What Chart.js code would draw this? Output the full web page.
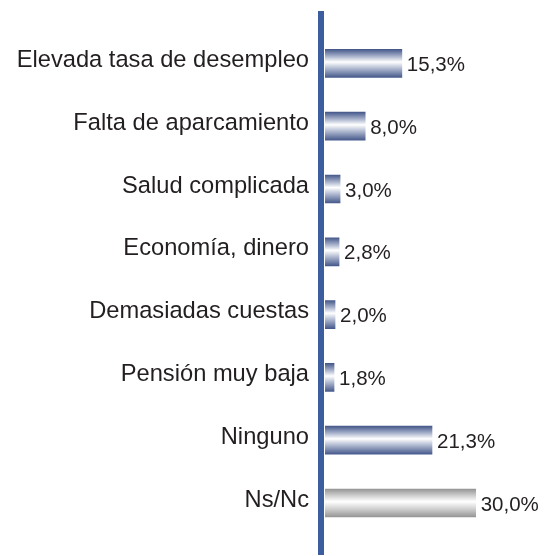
<!DOCTYPE html>
<html>
<head>
<meta charset="utf-8">
<script src="https://cdn.jsdelivr.net/npm/chart.js@4"></script>
<style>
  html, body { margin: 0; padding: 0; background: #fff; }
  #wrap { width: 545px; height: 556px; }
</style>
</head>
<body>
<div id="wrap"><canvas id="myChart"></canvas></div>
<script>
// datos
const categorias = [
  "Elevada tasa de desempleo",
  "Falta de aparcamiento",
  "Salud complicada",
  "Economía, dinero",
  "Demasiadas cuestas",
  "Pensión muy baja",
  "Ninguno",
  "Ns/Nc"
];
const valores = [15.3, 8.0, 3.0, 2.8, 2.0, 1.8, 21.3, 30.0];
const tipoBarra = ["azul", "azul", "azul", "azul", "azul", "azul", "azul", "gris"];

// degradado tipo cilindro, oscuro arriba y abajo, blanco en el medio
function barGradient(ctx) {
  const chart = ctx.chart;
  const yScale = chart.scales.y;
  if (!chart.chartArea || !yScale) return "#4a5d8e";
  const y = yScale.getPixelForValue(ctx.dataIndex);
  const top = y - 14, bottom = y + 14;
  const g = chart.ctx.createLinearGradient(0, top, 0, bottom);
  const dark = tipoBarra[ctx.dataIndex] === "gris" ? "#959595" : "#46598b";
  const mid = tipoBarra[ctx.dataIndex] === "gris" ? "#d2d2d2" : "#a9b3cc";
  g.addColorStop(0, dark);
  g.addColorStop(0.25, mid);
  g.addColorStop(0.45, "#ffffff");
  g.addColorStop(0.7, mid);
  g.addColorStop(1, dark);
  return g;
}

// linea vertical del eje, nombres de categoria y etiquetas de valor
const extras = {
  id: "extras",
  afterDatasetsDraw(chart) {
    const c = chart.ctx;
    const area = chart.chartArea;
    const yScale = chart.scales.y;
    c.save();
    c.fillStyle = "#3c5e9f";
    c.fillRect(area.left - 7, 11, 6, 544);
    c.fillStyle = "#231f20";
    c.textBaseline = "middle";
    c.font = "23.7px 'Liberation Sans', Arial, sans-serif";
    c.textAlign = "right";
    categorias.forEach((cat, i) => {
      c.fillText(cat, area.left - 16, yScale.getPixelForValue(i) - 3);
    });
    c.font = "20.5px 'Liberation Sans', Arial, sans-serif";
    c.textAlign = "left";
    chart.getDatasetMeta(0).data.forEach((bar, i) => {
      c.fillText(valores[i].toFixed(1).replace(".", ",") + "%", bar.x + 5, bar.y + 2);
    });
    c.restore();
  }
};

new Chart(document.getElementById("myChart"), {
  type: "bar",
  data: {
    labels: categorias,
    datasets: [{
      data: valores,
      backgroundColor: barGradient,
      borderWidth: 0,
      barThickness: 28
    }]
  },
  options: {
    indexAxis: "y",
    responsive: true,
    maintainAspectRatio: false,
    animation: false,
    layout: { padding: { top: 32, bottom: 21.6, left: 0, right: 4 } },
    plugins: { legend: { display: false }, tooltip: { enabled: false } },
    scales: {
      x: { display: false, min: 0, max: 43 },
      y: {
        grid: { display: false, drawTicks: false },
        border: { display: false },
        ticks: { display: false },
        afterFit(scale) { scale.width = 325; }
      }
    }
  },
  plugins: [extras]
});
</script>
</body>
</html>
